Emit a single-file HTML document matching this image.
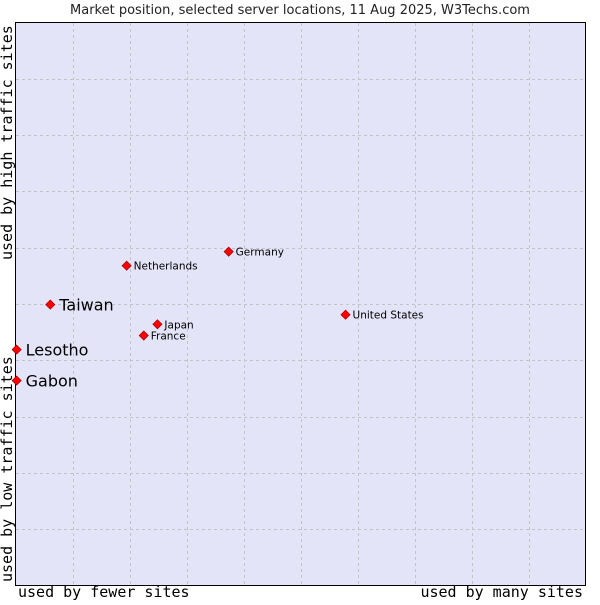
<!DOCTYPE html>
<html><head><meta charset="utf-8"><style>
body{margin:0;background:#fff}
svg text{font-family:"DejaVu Sans","Liberation Sans",sans-serif}
.mono{font-family:"DejaVu Sans Mono","Liberation Mono",monospace}
</style></head><body>
<svg id="c" width="600" height="600">
<text x="300" y="14" text-anchor="middle" font-size="13" fill="#222">Market position, selected server locations, 11 Aug 2025, W3Techs.com</text>
<rect x="15.5" y="22.5" width="570" height="563" fill="#e4e4f8" stroke="#000" stroke-width="1"/>
<g id="grid"></g>
<g id="pts"></g>
<text class="mono" x="18" y="597" font-size="15" fill="#000">used by fewer sites</text>
<text class="mono" x="583" y="597" text-anchor="end" font-size="15" fill="#000">used by many sites</text>
<text class="mono" transform="translate(12,582) rotate(-90)" font-size="15" fill="#000">used by low traffic sites</text>
<text class="mono" transform="translate(12,260) rotate(-90)" font-size="15" fill="#000">used by high traffic sites</text>
</svg>
<script>
const names=["Taiwan","Lesotho","Gabon","Netherlands","Germany","Japan","France","United States"];
const xVals=[6.1,0.2,0.2,19.5,37.4,24.9,22.5,57.9];
const yVals=[49.9,41.9,36.4,56.8,59.3,46.4,44.4,48.1];
const bigLabel=[true,true,true,false,false,false,false,false];
const X0=15.5,W=570,Y0=585.5,H=563;
const sx=v=>X0+v/100*W, sy=v=>Y0-v/100*H;
const NS="http://www.w3.org/2000/svg";
const grid=document.getElementById('grid');
for(let i=1;i<10;i++){
 const v=document.createElementNS(NS,'line');
 
 
 const gx=Math.round(sx(i*10))+0.5;
 v.setAttribute('x1',gx);v.setAttribute('x2',gx);v.setAttribute('y1',23);v.setAttribute('y2',585);
 v.setAttribute('stroke','#c4c4c4');v.setAttribute('stroke-dasharray','3,3');grid.appendChild(v);
 const h=document.createElementNS(NS,'line');
 
 
 const gy=Math.round(sy(i*10))+0.5;
 h.setAttribute('y1',gy);h.setAttribute('y2',gy);h.setAttribute('x1',16);h.setAttribute('x2',585);
 h.setAttribute('stroke','#c4c4c4');h.setAttribute('stroke-dasharray','3,3');grid.appendChild(h);
}
const pts=document.getElementById('pts');
names.forEach((n,i)=>{
 const x=sx(xVals[i]),y=sy(yVals[i]);
 const d=document.createElementNS(NS,'polygon');
 
 
 d.setAttribute('points',`${x},${y-4.5} ${x+4.5},${y} ${x},${y+4.5} ${x-4.5},${y}`);
 d.setAttribute('fill','#f00');d.setAttribute('stroke','#a00');d.setAttribute('stroke-width','0.8');
 pts.appendChild(d);
 const t=document.createElementNS(NS,'text');
 
 
 if(bigLabel[i]){t.setAttribute('x',x+9);t.setAttribute('y',y+6);t.setAttribute('font-size','16');}
 else{t.setAttribute('x',x+7);t.setAttribute('y',y+4);t.setAttribute('font-size','10.5');}
 t.setAttribute('fill','#000');t.textContent=n;pts.appendChild(t);
});
</script>
</body></html>
